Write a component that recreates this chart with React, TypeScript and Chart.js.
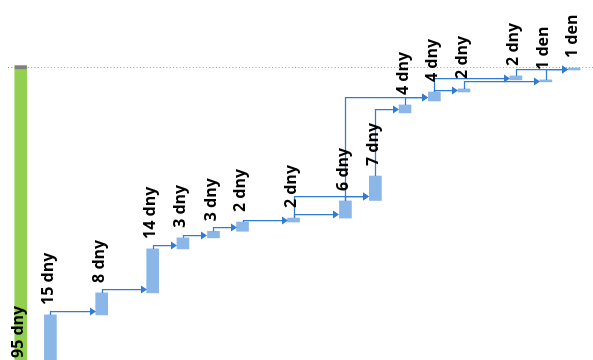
import { useEffect, useRef } from 'react';
import { Chart, registerables } from 'chart.js';

Chart.register(...registerables);

// Row position of each task (0 = project summary), in row units
const taskRows = [0, 1, 2.73, 4.45, 5.47, 6.5, 7.48, 9.2, 10.95, 11.96, 12.96, 13.95, 14.95, 16.7, 17.71, 18.66];
// Start / finish of each task, in calendar days from project start
const taskStarts = [0, 0, 20.5, 30.5, 50.5, 55.5, 58.5, 62.7, 64.5, 72.5, 112.3, 117.7, 121.8, 127.3, 126.4, 131.8];
const taskFinishes = [133.8, 20.5, 30.5, 50.5, 55.5, 58.5, 62.7, 64.5, 72.3, 83.6, 115.9, 121.8, 123.2, 129.1, 127.3, 132.7];
const durationLabels = ['95 dny', '15 dny', '8 dny', '14 dny', '3 dny', '3 dny', '2 dny', '2 dny', '6 dny', '7 dny', '4 dny', '4 dny', '2 dny', '2 dny', '1 den', '1 den'];
// Finish-to-start links [predecessor, successor]
const linkPreds = [1, 2, 3, 4, 5, 6, 7, 7, 8, 9, 10, 8, 11, 11, 12, 13, 14];
const linkSuccs = [2, 3, 4, 5, 6, 7, 8, 9, 9, 10, 11, 11, 12, 13, 14, 15, 15];
const statusDay = 133;

const BAR_W = 12;
const LINK_COLOR = '#2f7bd5';

const ganttPlugin = {
  id: 'ganttDecor',
  afterDatasetsDraw(chart: any) {
    const ctx = chart.ctx;
    const xs = chart.scales.x;
    const ys = chart.scales.y;
    const area = chart.chartArea;
    const xp = (i: number) => xs.getPixelForValue(taskRows[i]);
    const yp = (v: number) => ys.getPixelForValue(v);
    ctx.save();

    // status / finish dotted line
    const ly = Math.round(yp(statusDay)) + 0.5;
    ctx.strokeStyle = '#9a9a9a';
    ctx.lineWidth = 1;
    ctx.setLineDash([1, 2.3]);
    ctx.beginPath();
    ctx.moveTo(area.left + 8, ly);
    ctx.lineTo(area.right, ly);
    ctx.stroke();
    ctx.setLineDash([]);

    // summary cap
    const sx = xp(0);
    const sTop = yp(taskFinishes[0]);
    ctx.fillStyle = '#7f7f7f';
    ctx.fillRect(sx - BAR_W / 2, sTop, BAR_W, 3.6);

    // links
    ctx.strokeStyle = LINK_COLOR;
    ctx.fillStyle = LINK_COLOR;
    ctx.lineWidth = 1.25;
    for (let k = 0; k < linkPreds.length; k++) {
      const p = linkPreds[k];
      const s = linkSuccs[k];
      const px = Math.round(xp(p)) + 0.5;
      const pTop = yp(taskFinishes[p]);
      const sBot = yp(taskStarts[s]);
      const sTopY = yp(taskFinishes[s]);
      const h = sBot - sTopY;
      const ay = Math.round(sBot - Math.min(4, h / 2)) + 0.5;
      const tipX = Math.round(xp(s) - BAR_W / 2);
      ctx.beginPath();
      ctx.moveTo(px, pTop);
      ctx.lineTo(px, ay);
      ctx.lineTo(tipX - 5, ay);
      ctx.stroke();
      ctx.beginPath();
      ctx.moveTo(tipX, ay);
      ctx.lineTo(tipX - 6, ay - 4);
      ctx.lineTo(tipX - 6, ay + 4);
      ctx.closePath();
      ctx.fill();
    }

    // labels
    ctx.fillStyle = '#000';
    ctx.font = "bold 16px 'Open Sans'";
    ctx.textAlign = 'left';
    ctx.textBaseline = 'alphabetic';
    for (let i = 0; i < durationLabels.length; i++) {
      const x = xp(i) + 2.5;
      const y = i === 0 ? yp(taskStarts[0]) - 2 : yp(taskFinishes[i]) - 10;
      ctx.save();
      ctx.translate(x, y);
      ctx.rotate(-Math.PI / 2);
      ctx.fillText(durationLabels[i], 0, 0);
      ctx.restore();
    }
    ctx.restore();
  },
};

export default function App() {
  const ref = useRef<HTMLCanvasElement>(null);
  useEffect(() => {
    if (!ref.current) return;
    const summaryData = [{ x: taskRows[0], y: [taskStarts[0], taskFinishes[0]] }];
    const taskData = taskRows.slice(1).map((r, i) => ({ x: r, y: [taskStarts[i + 1], taskFinishes[i + 1]] }));
    const chart = new Chart(ref.current, {
      type: 'bar',
      data: {
        datasets: [
          { data: summaryData as any, backgroundColor: '#92d050', barThickness: BAR_W, grouped: false, borderWidth: 0 },
          { data: taskData as any, backgroundColor: '#8ab6e8', barThickness: BAR_W, grouped: false, borderWidth: 0 },
        ],
      },
      options: {
        responsive: false,
        animation: false,
        layout: { padding: 0 },
        parsing: { xAxisKey: 'x', yAxisKey: 'y' } as any,
        scales: {
          x: { type: 'linear', min: -0.7, max: 19.3, offset: false, display: false, grid: { offset: false } },
          y: { type: 'linear', min: 0, max: 163.6, display: false },
        },
        plugins: { legend: { display: false }, tooltip: { enabled: false } },
      },
      plugins: [ganttPlugin],
    });
    return () => chart.destroy();
  }, []);
  return (
    <canvas
      ref={ref}
      width={593}
      height={360}
      style={{ position: 'fixed', left: 0, top: 0, width: 593, height: 360, display: 'block' }}
    />
  );
}
